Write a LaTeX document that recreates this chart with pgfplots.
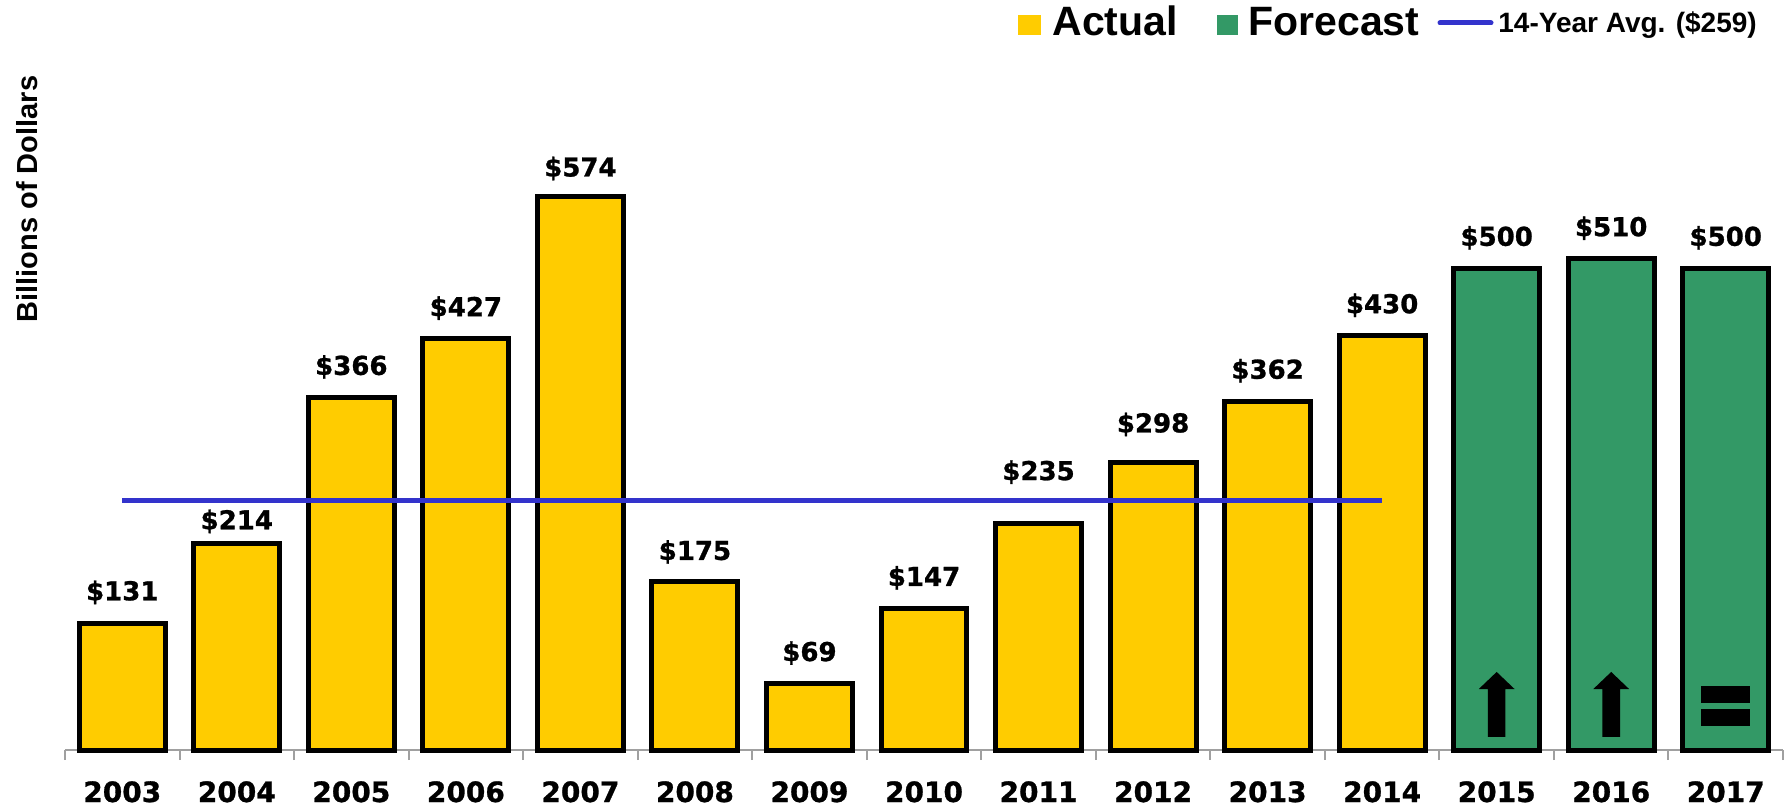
\documentclass[border=0pt]{standalone}
\usepackage{fontspec}
\setmainfont{DejaVu Sans}[BoldFeatures={FakeBold=1}]
\newfontfamily\arialb{Liberation Sans}
\usepackage{pgfplots}
\pgfplotsset{compat=1.18}
\usepackage{pgfplotstable}

\definecolor{actualyel}{HTML}{FFCC00}
\definecolor{fcgreen}{HTML}{339966}
\definecolor{avgblue}{HTML}{3333CC}
\definecolor{axgray}{HTML}{A0A0A0}

% year index, value, label offset (pt above bar top)
\pgfplotstableread{
x y off
0 131 10.5
1 214 6
2 366 10
3 427 10
4 574 9
5 175 9.5
6 69 10
7 147 10
8 235 20.5
9 298 14
10 362 10
11 430 10
}\actualdata

\pgfplotstableread{
x y off
12 500 10
13 510 10
14 500 10
}\forecastdata

\begin{document}
\begin{tikzpicture}
\path[use as bounding box] (-32.5pt,-29.5pt) rectangle (862pt,375pt);
\begin{axis}[
scale only axis,
width=859pt,
height=337.2pt,
xmin=-0.5, xmax=14.5,
ymin=0, ymax=700,
axis x line*=bottom,
hide y axis,
clip=false,
xtick={0,...,14},
xticklabels={2003,2004,2005,2006,2007,2008,2009,2010,2011,2012,2013,2014,2015,2016,2017},
minor xtick={-0.5,0.5,...,14.5},
major tick length=0pt,
minor tick length=5pt,
tick align=outside,
minor x tick style={draw=axgray, line width=1pt},
x axis line style={draw=axgray, line width=1pt},
xticklabel style={font=\fontsize{14}{16}\selectfont\bfseries, anchor=base, yshift=-26pt},
/pgf/number format/assume math mode=true,
every node near coord/.append style={font=\fontsize{13}{15}\selectfont\bfseries, anchor=south, inner sep=0pt, yshift=\labeloff pt},
]
\addplot[ybar, bar width=0.75, fill=actualyel, draw=black, line width=2.5pt,
  point meta=explicit,
  visualization depends on={\thisrow{off} \as \labeloff},
  nodes near coords={\raisebox{0pt}[\height][0pt]{\$\pgfmathprintnumber[fixed,precision=0]{\pgfplotspointmeta}}}]
  table[x=x, y=y, meta=y] {\actualdata};
\addplot[ybar, bar width=0.75, fill=fcgreen, draw=black, line width=2.5pt,
  point meta=explicit,
  visualization depends on={\thisrow{off} \as \labeloff},
  nodes near coords={\raisebox{0pt}[\height][0pt]{\$\pgfmathprintnumber[fixed,precision=0]{\pgfplotspointmeta}}}]
  table[x=x, y=y, meta=y] {\forecastdata};
\addplot[avgblue, line width=2.5pt, mark=none] coordinates {(0,259) (11,259)};

% direction icons inside the forecast bars
\fill[black] (axis cs:11.923,13.5) -- (axis cs:11.923,63.3) -- (axis cs:11.844,63.3) -- (axis cs:12,81)
  -- (axis cs:12.156,63.3) -- (axis cs:12.077,63.3) -- (axis cs:12.077,13.5) -- cycle;
\fill[black] (axis cs:12.923,13.5) -- (axis cs:12.923,63.3) -- (axis cs:12.844,63.3) -- (axis cs:13,81)
  -- (axis cs:13.156,63.3) -- (axis cs:13.077,63.3) -- (axis cs:13.077,13.5) -- cycle;
\fill[black] (axis cs:13.786,48.8) rectangle (axis cs:14.214,66.4);
\fill[black] (axis cs:13.786,24.9) rectangle (axis cs:14.214,42.6);
\end{axis}

% y label
\node[rotate=90, anchor=base, inner sep=0pt, font=\arialb\bfseries\fontsize{14.5}{16}\selectfont] at (-14pt,275.5pt) {Billions of Dollars};

% legend
\fill[actualyel] (476.5pt,357.5pt) rectangle (488pt,367.5pt);
\node[anchor=base west, inner sep=0pt, font=\arialb\bfseries\fontsize{20.5}{23}\selectfont] at (493.5pt,357pt) {Actual};
\fill[fcgreen] (576pt,357.5pt) rectangle (586.5pt,367.5pt);
\node[anchor=base west, inner sep=0pt, font=\arialb\bfseries\fontsize{20.5}{23}\selectfont] at (591.5pt,357pt) {Forecast};
\draw[avgblue, line width=2.5pt, line cap=round] (687.5pt,363.5pt) -- (713pt,363.5pt);
\node[anchor=base west, inner sep=0pt, font=\arialb\bfseries\fontsize{14}{16}\selectfont] at (716.5pt,358.5pt) {14-Year Avg. (\$259)};
\end{tikzpicture}
\end{document}
